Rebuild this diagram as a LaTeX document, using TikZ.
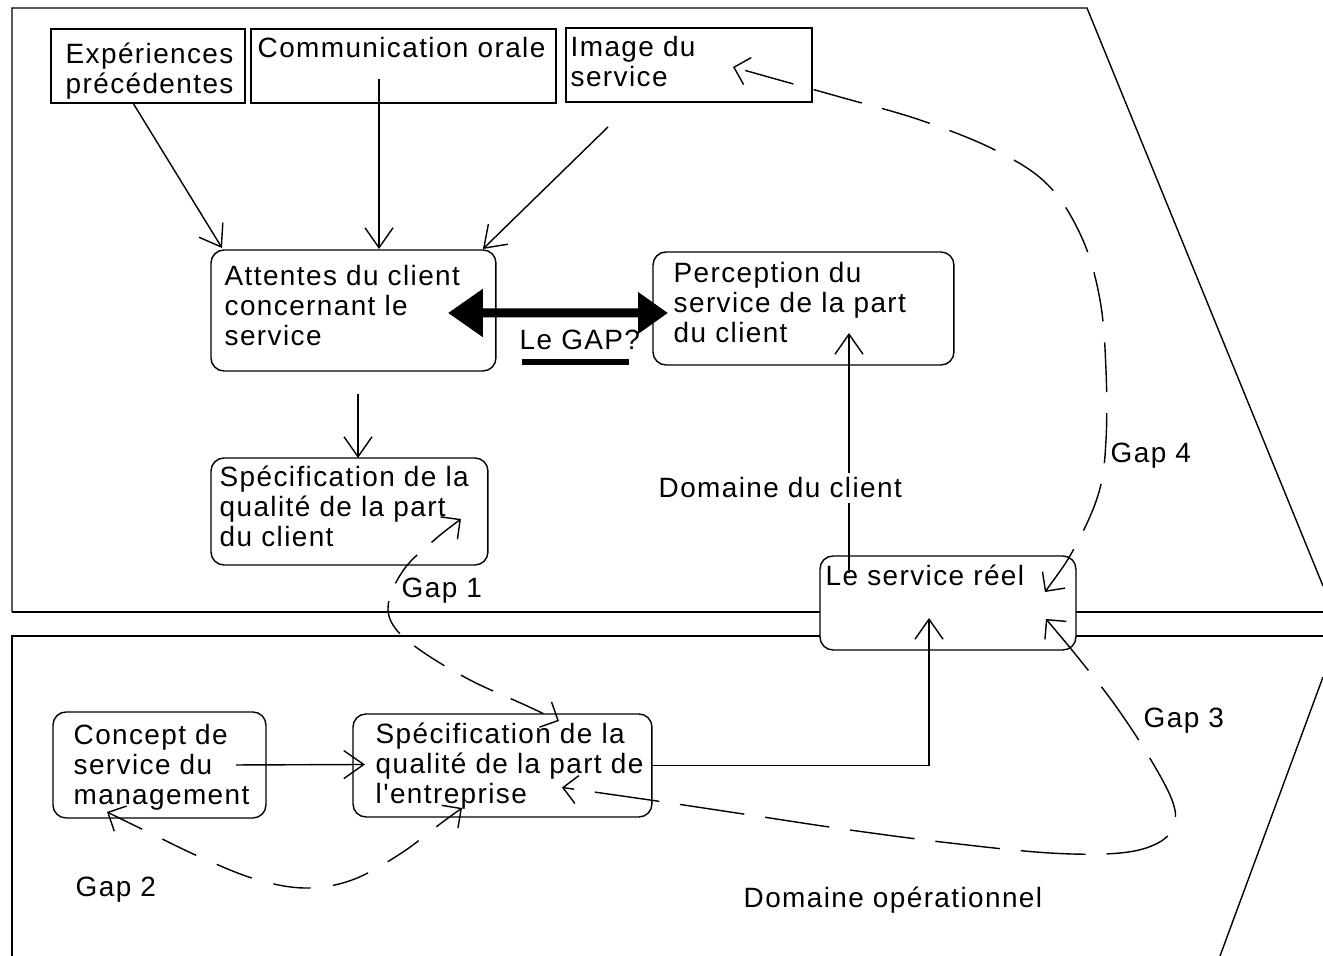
\documentclass[tikz,border=0pt]{standalone}
\usepackage{fontspec}
\setmainfont{Liberation Sans}[LetterSpace=5, Ligatures=TeXOff]
\usetikzlibrary{arrows.meta,calc}
\newcommand{\dfsize}{\fontsize{15.9pt}{17pt}\selectfont}
\begin{document}
\begin{tikzpicture}[x=0.02cm,y=-0.02cm,
  line width=0.8pt,
  sq/.style={draw, rectangle, anchor=north west, inner sep=0pt, outer sep=0pt, fill=white},
  rb/.style={sq, rounded corners=0.26cm},
  txt/.style={anchor=north west, inner sep=0pt, align=left, font=\dfsize},
  lab/.style={anchor=base west, inner sep=0pt, font=\dfsize},
  arr/.style={-{Straight Barb[length=0.4cm,width=0.56cm]}},
  gtip/.tip={Straight Barb[length=0.28cm,width=0.56cm]},
  gapline/.style={gtip-gtip},
]
\useasboundingbox (0,0) rectangle (1323,956);
% domain frames
\draw (12,612) -- (12,8) -- (1087,8) -- (1323,586);
\draw (12,612) -- (1323,612);
\draw (1323,636) -- (12,636) -- (12,956);
\draw (1323,677) -- (1220,956);
% boxes
\node[sq, minimum width=3.88cm, minimum height=1.48cm] (A) at (51,29) {};
\node[sq, minimum width=6.10cm, minimum height=1.48cm] (B) at (251,29) {};
\node[sq, minimum width=4.92cm, minimum height=1.48cm] (C) at (566,28) {};
\node[rb, minimum width=5.70cm, minimum height=2.42cm] (D) at (211,250) {};
\node[rb, minimum width=6.02cm, minimum height=2.26cm] (E) at (653,252) {};
\node[rb, minimum width=5.54cm, minimum height=2.14cm] (F) at (211,458) {};
\node[rb, minimum width=5.12cm, minimum height=1.88cm] (G) at (820,556) {};
\node[rb, minimum width=4.26cm, minimum height=2.12cm] (H) at (53,712) {};
\node[rb, minimum width=5.98cm, minimum height=2.06cm] (I) at (353,714) {};
% box texts
\node[txt] (At) at (65,42) {\strut Expériences\\précédentes};
\node[txt] (Bt) at (257,36) {\strut Communication orale};
\node[txt] (Ct) at (570,35) {\strut Image du\\service};
\node[txt] (Dt) at (224,264) {\strut Attentes du client\\concernant le\\service};
\node[txt] (Et) at (673,261) {\strut Perception du\\service de la part\\du client};
\node[txt] (Ft) at (219,465) {\strut Spécification de la\\qualité de la part\\du client};
\node[txt] (Gt) at (825,564) {\strut Le service réel};
\node[txt] (Ht) at (73,723) {\strut Concept de\\service du\\management};
\node[txt] (It) at (375,722) {\strut Spécification de la\\qualité de la part de\\l'entreprise};
% solid arrows
\draw[arr] ($(A.south west)+(82,0)$) -- ($(D.north west)+(11,-2)$);
\draw[arr] ($(B.south west)+(128,-24)$) -- ($(D.north west)+(168,-1)$);
\draw[arr] ($(C.south west)+(42,25)$) -- ($(D.north east)+(-13,-1)$);
\draw[arr] ($(D.south west)+(147,23)$) -- ($(F.north west)+(147,0)$);
\draw[arr] ($(G.north west)+(29,17)$) -- ($(E.south west)+(196,-32)$);
\draw[arr] (I.east) -| ($(G.south west)+(109,-32)$);
\draw[arr] ($(H.south west)+(183,-53)$) -- ($(I.west)+(12,-1)$);
% thick double arrow
\draw[line width=0.18cm, {Triangle[length=0.7cm,width=0.92cm]}-{Triangle[length=0.6cm,width=0.8cm]}]
  ($(D.east)+(-48,2.5)$) -- ($(E.west)+(15,4.5)$);
\node[lab] (Lg) at (519,350) {Le GAP?};
\draw[line width=0.13cm] ($(Lg.base west)+(3,12)$) -- ($(Lg.base east)+(-12,12)$);
% gap curve endpoints
\coordinate (g4a) at ($(G.north east)+(-31,36)$);
\coordinate (g4b) at ($(C.north west)+(167,39)$);
\coordinate (g1a) at ($(F.south east)+(-27,-46)$);
\coordinate (g1b) at ($(I.north west)+(206,7)$);
\coordinate (g2a) at ($(H.south west)+(54,-6)$);
\coordinate (g2b) at ($(I.south west)+(109,-9)$);
\coordinate (g3a) at ($(G.south east)+(-30,-31)$);
\coordinate (g3b) at ($(I.east)+(-90,22)$);
% gap curves
\draw[gapline, dash pattern=on 1cm off 0.42cm] plot[smooth, tension=0.6] coordinates
  {(g4a) (1076,545) (1099,492) (1106,440) (1106,370) (1100,300) (1082,238) (1048,185) (995,150) (920,120) (840,97) (772,78) (g4b)};
\draw[gapline, dash pattern=on 0.72cm off 0.38cm] plot[smooth, tension=0.6] coordinates
  {(g1a) (432,542) (405,568) (389,600) (393,625) (420,650) (470,680) (525,705) (g1b)};
\draw[gapline, dash pattern=on 0.75cm off 0.45cm] plot[smooth, tension=0.6] coordinates
  {(g2a) (150,833) (200,857) (255,879) (305,888) (352,880) (400,854) (440,824) (g2b)};
\draw[gapline, dash pattern=on 1.3cm off 0.42cm] plot[smooth, tension=0.6] coordinates
  {(g3a) (1080,660) (1115,705) (1148,755) (1172,800) (1174,825) (1158,843) (1120,853) (1050,853) (950,843) (850,830) (750,815) (650,800) (g3b)};
% labels
\node[lab] (L1) at (401,597) {Gap 1};
\node[lab] (L2) at (75,896) {Gap 2};
\node[lab] (L3) at (1143,727) {Gap 3};
\node[lab] (L4) at (1110,462) {Gap 4};
\node[lab, fill=white, inner ysep=0.1cm] (Dc) at (658,498) {Domaine du client};
\node[lab] (Do) at (743,907) {Domaine opérationnel};
\end{tikzpicture}
\end{document}
